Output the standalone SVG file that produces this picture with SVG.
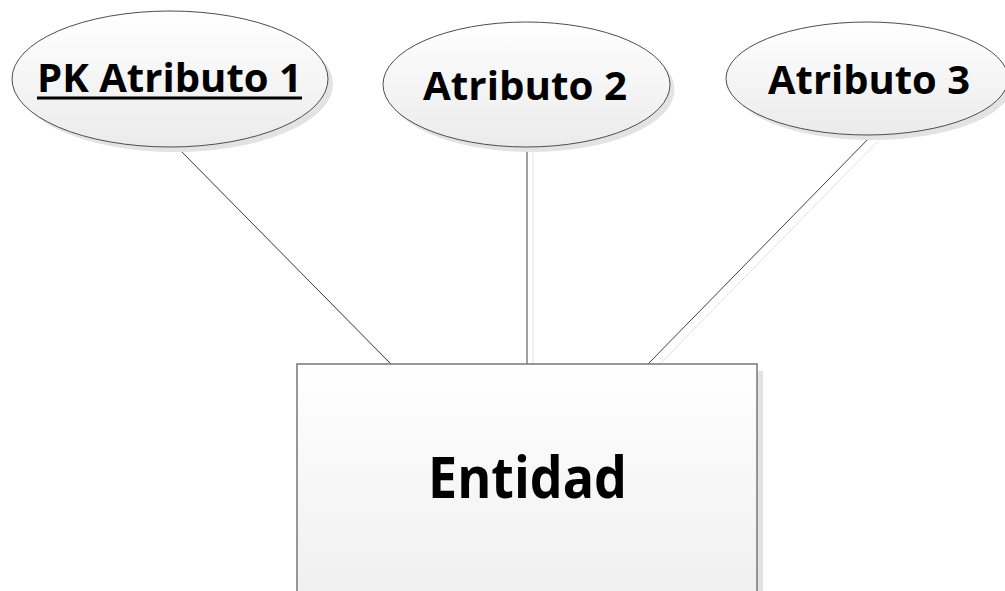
<svg xmlns="http://www.w3.org/2000/svg" width="1005" height="591" viewBox="0 0 1005 591">
  <defs>
    <linearGradient id="gEll" x1="0" y1="0" x2="0" y2="1">
      <stop offset="0" stop-color="#ffffff"/>
      <stop offset="1" stop-color="#ebebeb"/>
    </linearGradient>
    <linearGradient id="gRect" x1="0" y1="0" x2="0" y2="1">
      <stop offset="0" stop-color="#ffffff"/>
      <stop offset="1" stop-color="#efefef"/>
    </linearGradient>
  </defs>
  <style>
    .shadow { fill: #e3e3e3; stroke: none; }
    .ell { fill: url(#gEll); stroke: #4d4d4d; stroke-width: 1; }
    .rect { fill: url(#gRect); stroke: #7f7f7f; stroke-width: 1.6; }
    .conn { stroke: #404040; stroke-width: 1; fill: none; }
    .connShadow { stroke: #e0e0e0; stroke-width: 1; fill: none; }
    .lbl { font-family: "Open Sans", Lato, "Liberation Sans", sans-serif; font-weight: bold; fill: #000000; text-anchor: middle; font-variant-ligatures: none; }
  </style>
  <rect width="1005" height="591" fill="#ffffff"/>
  <g id="connectors">
    <line class="connShadow" x1="183" y1="153" x2="396" y2="370"/>
    <line class="connShadow" x1="533" y1="153" x2="533" y2="370"/>
    <line class="connShadow" x1="878" y1="141" x2="654" y2="370"/>
    <line class="conn" x1="177" y1="147" x2="391" y2="364"/>
    <line class="conn" x1="527" y1="147" x2="527" y2="364"/>
    <line class="conn" x1="872" y1="135" x2="648" y2="364"/>
  </g>
  <g id="attr1">
    <ellipse class="shadow" cx="175" cy="84" rx="158" ry="68"/>
    <ellipse class="ell" cx="170" cy="79" rx="158" ry="68"/>
    <text class="lbl" x="169.5" y="92" font-size="40" textLength="265" lengthAdjust="spacingAndGlyphs">PK Atributo 1</text>
    <rect x="37" y="96.5" width="265" height="3" fill="#000000"/>
  </g>
  <g id="attr2">
    <ellipse class="shadow" cx="531" cy="89.5" rx="143.5" ry="62.5"/>
    <ellipse class="ell" cx="526.5" cy="84.5" rx="143.5" ry="62.5"/>
    <text class="lbl" x="525" y="100" font-size="40" textLength="204" lengthAdjust="spacingAndGlyphs">Atributo 2</text>
  </g>
  <g id="attr3">
    <ellipse class="shadow" cx="872" cy="83.5" rx="141" ry="56.5"/>
    <ellipse class="ell" cx="867" cy="78.5" rx="141" ry="56.5"/>
    <text class="lbl" x="869" y="94" font-size="40" textLength="202" lengthAdjust="spacingAndGlyphs">Atributo 3</text>
  </g>
  <g id="entidad">
    <rect class="shadow" x="303" y="371" width="460" height="230"/>
    <rect class="rect" x="297" y="364" width="460" height="240"/>
    <text class="lbl" x="527.5" y="498" font-size="57" textLength="199" lengthAdjust="spacingAndGlyphs">Entidad</text>
  </g>
</svg>
